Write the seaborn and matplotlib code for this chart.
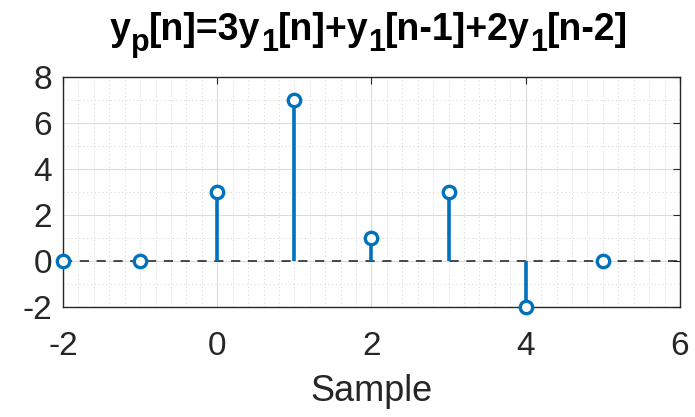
import numpy as np
import pandas as pd
import matplotlib
matplotlib.use("Agg")
import matplotlib.pyplot as plt
from matplotlib.ticker import MultipleLocator
import seaborn as sns

# Output sequence y_p[n]
n = [-2, -1, 0, 1, 2, 3, 4, 5]
yp = [0, 0, 3, 7, 1, 3, -2, 0]

x_ticks = [-2, 0, 2, 4, 6]
y_ticks = [-2, 0, 2, 4, 6, 8]

# title pieces: (text, is_subscript)
title_parts = [("y", False), ("p", True), ("[n]=3y", False), ("1", True),
               ("[n]+y", False), ("1", True), ("[n-1]+2y", False),
               ("1", True), ("[n-2]", False)]

sns.set_theme(style="white")
plt.rcParams["font.family"] = ["Liberation Sans", "DejaVu Sans"]
plt.rcParams["axes.unicode_minus"] = False

df = pd.DataFrame({"n": n, "yp": yp})
stem_color = "#0072BD"
axis_color = "#262626"

W, H = 695, 417
fig = plt.figure(figsize=(W / 100, H / 100), dpi=100)
ax = fig.add_axes([63 / W, 1 - 307 / H, 617 / W, 230 / H])

ax.set_xlim(-2, 6)
ax.set_ylim(-2, 8)

# grid: major solid, minor dotted
ax.xaxis.set_major_locator(MultipleLocator(2))
ax.yaxis.set_major_locator(MultipleLocator(2))
ax.xaxis.set_minor_locator(MultipleLocator(0.2))
ax.yaxis.set_minor_locator(MultipleLocator(1))
ax.grid(True, which="major", color="#dcdcdc", linewidth=0.8, linestyle="-")
ax.grid(True, which="minor", color="#dedede", linewidth=0.7, linestyle=(0, (1.5, 2.5)))
ax.set_axisbelow(True)

# dashed baseline
ax.axhline(0, color="#1a1a1a", linewidth=1.1, linestyle=(0, (6, 5)), zorder=2)

# stems
ax.vlines(df["n"], 0, df["yp"], color=stem_color, linewidth=2.6, zorder=3)
sns.scatterplot(data=df, x="n", y="yp", ax=ax, marker="o", s=80,
                facecolor="white", edgecolor=stem_color, linewidth=2.4,
                zorder=4, clip_on=False, legend=False)

ax.set_xticks(x_ticks)
ax.set_yticks(y_ticks)
ax.tick_params(axis="both", which="major", direction="in", length=5,
               width=0.8, color=axis_color, labelsize=24,
               labelcolor=axis_color, pad=8)
ax.tick_params(axis="both", which="minor", length=0)
ax.tick_params(axis="x", pad=17)
for side in ["left", "right", "top", "bottom"]:
    ax.spines[side].set_visible(True)
    ax.spines[side].set_color(axis_color)
    ax.spines[side].set_linewidth(1.0)
ax.tick_params(top=True, right=True, which="major")

ax.set_xlabel("Sample", fontsize=26, color=axis_color, labelpad=9)
ax.set_ylabel("")

# title assembled piece by piece so the subscripts stay large
renderer = fig.canvas.get_renderer()
main_size, sub_size = 27, 22
baseline_px = H - 40
sub_drop_px = 11
pieces = []
for text, sub in title_parts:
    t = fig.text(0, 0, text, fontsize=sub_size if sub else main_size,
                 fontweight="bold", color="black", ha="left",
                 va="baseline", transform=None)
    pieces.append((t, sub))
widths = [t.get_window_extent(renderer).width for t, _ in pieces]
center_px = 369
x = center_px - sum(widths) / 2
for (t, sub), w in zip(pieces, widths):
    t.set_position((x, baseline_px - (sub_drop_px if sub else 0)))
    x += w

fig.savefig("out.png", dpi=100, facecolor="white")
